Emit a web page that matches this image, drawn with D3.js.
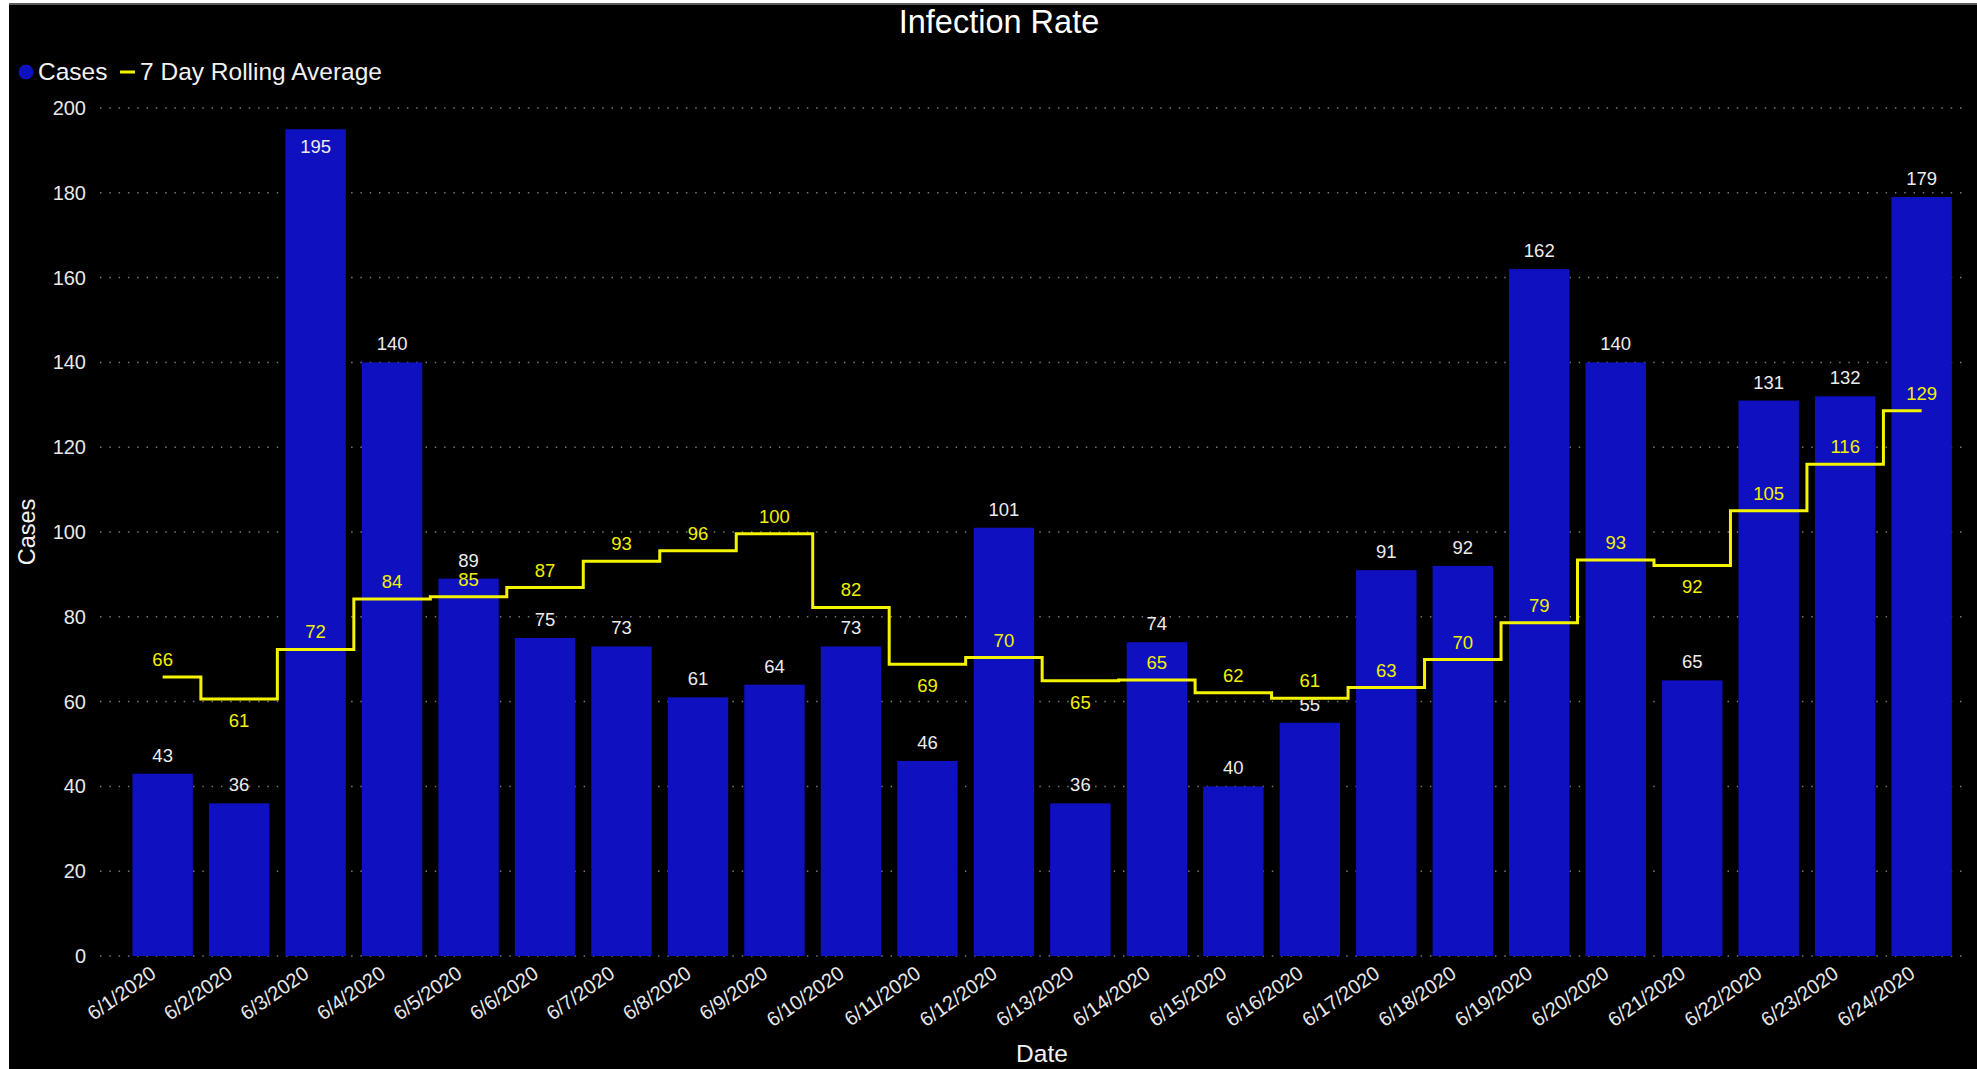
<html>
<head>
<meta charset="UTF-8">
<script src="https://d3js.org/d3.v7.min.js"></script>
<style>
body { margin: 0; background: #fff; }
svg { display: block; font-family: "Liberation Sans", Arial, sans-serif; }
</style>
</head>
<body>
<svg id="chart" width="1977" height="1069"></svg>
<script>
// datos
var dates = ["6/1/2020","6/2/2020","6/3/2020","6/4/2020","6/5/2020","6/6/2020","6/7/2020","6/8/2020",
	"6/9/2020","6/10/2020","6/11/2020","6/12/2020","6/13/2020","6/14/2020","6/15/2020","6/16/2020",
	"6/17/2020","6/18/2020","6/19/2020","6/20/2020","6/21/2020","6/22/2020","6/23/2020","6/24/2020"]
var cases = [43,36,195,140,89,75,73,61,64,73,46,101,36,74,40,55,91,92,162,140,65,131,132,179]
var rolling = [65.8,60.6,72.3,84.2,84.7,86.9,93.1,95.6,99.6,82.2,68.8,70.4,64.9,65.1,62.1,60.8,63.3,69.9,78.6,93.4,92.1,105.0,116.0,128.6]
var yTicks = [0,20,40,60,80,100,120,140,160,180,200]

var svg = d3.select("#chart")

// fondo negro del visual
svg.append("rect").attr("x", 9).attr("y", 3).attr("width", 1968).attr("height", 1066).attr("fill", "#000")
svg.append("rect").attr("x", 9).attr("y", 3).attr("width", 1968).attr("height", 2).attr("fill", "#5a5a5a")

var x = d3.scaleBand()
	.domain(dates)
	.range([124.4, 1959.9])
	.paddingInner(0.21)
	.paddingOuter(0.105)

var y = d3.scaleLinear()
	.domain([0, 200])
	.range([956, 108])

// lineas de cuadricula punteadas
svg.append("g").selectAll("line")
	.data(yTicks)
	.enter().append("line")
	.attr("x1", 100).attr("x2", 1968)
	.attr("y1", d => y(d)).attr("y2", d => y(d))
	.attr("stroke", "#777")
	.attr("stroke-width", 1.5)
	.attr("stroke-dasharray", "1.5,7.8")

// eje Y
var yAxis = svg.append("g")
	.attr("transform", "translate(86,0)")
	.call(d3.axisLeft(y).tickValues(yTicks).tickSize(0).tickPadding(0))
yAxis.select(".domain").remove()
yAxis.selectAll("text")
	.attr("fill", "#e8e8e8")
	.style("font-size", "20px")
	.style("font-family", "Liberation Sans, Arial, sans-serif")

// eje X
var xAxis = svg.append("g")
	.attr("transform", "translate(0,956)")
	.call(d3.axisBottom(x).tickSize(0))
xAxis.select(".domain").remove()
xAxis.selectAll("text")
	.attr("fill", "#e8e8e8")
	.style("font-size", "20px")
	.style("font-family", "Liberation Sans, Arial, sans-serif")
	.attr("text-anchor", "end")
	.attr("dy", 0)
	.attr("transform", "translate(-7,18) rotate(-35)")

// barras
svg.append("g").selectAll("rect")
	.data(cases)
	.enter().append("rect")
	.attr("x", (d, i) => x(dates[i]))
	.attr("y", d => y(d))
	.attr("width", x.bandwidth())
	.attr("height", d => y(0) - y(d))
	.attr("fill", "#0f10bf")

// etiquetas de barras
svg.append("g").selectAll("text")
	.data(cases)
	.enter().append("text")
	.attr("x", (d, i) => x(dates[i]) + x.bandwidth() / 2)
	.attr("y", d => y(d) - 30 < y(200) ? y(d) + 24 : y(d) - 12)
	.attr("text-anchor", "middle")
	.attr("fill", "#ececec")
	.style("font-size", "18.5px")
	.text(d => d)

// linea de promedio movil (escalonada)
var line = d3.line()
	.x((d, i) => x(dates[i]) + x.bandwidth() / 2)
	.y(d => y(d))
	.curve(d3.curveStep)

svg.append("path")
	.datum(rolling)
	.attr("d", line)
	.attr("fill", "none")
	.attr("stroke", "#f4f400")
	.attr("stroke-width", 3)

// etiquetas del promedio: abajo en minimos locales salvo choque con la etiqueta de barra
function below(i) {
	var v = rolling[i]
	var prev = i > 0 ? rolling[i - 1] : Infinity
	var next = i < rolling.length - 1 ? rolling[i + 1] : Infinity
	if (!(v <= prev && v <= next)) return false
	var barLabel = y(cases[i]) - 18
	return Math.abs((y(v) + 22) - barLabel) > 20
}

svg.append("g").selectAll("text")
	.data(rolling)
	.enter().append("text")
	.attr("x", (d, i) => x(dates[i]) + x.bandwidth() / 2)
	.attr("y", (d, i) => below(i) ? y(d) + 28 : y(d) - 11)
	.attr("text-anchor", "middle")
	.attr("fill", "#f0f000")
	.style("font-size", "18.5px")
	.text(d => Math.round(d))

// titulo
svg.append("text")
	.attr("x", 999).attr("y", 33)
	.attr("text-anchor", "middle")
	.attr("fill", "#fff")
	.style("font-size", "32.5px")
	.text("Infection Rate")

// leyenda
svg.append("circle").attr("cx", 26).attr("cy", 72).attr("r", 7.5).attr("fill", "#0f10bf")
svg.append("text").attr("x", 38).attr("y", 80).attr("fill", "#f2f2f2").style("font-size", "24.5px").text("Cases")
svg.append("line").attr("x1", 120).attr("x2", 135).attr("y1", 72).attr("y2", 72)
	.attr("stroke", "#f4f400").attr("stroke-width", 3)
svg.append("text").attr("x", 140).attr("y", 80).attr("fill", "#f2f2f2").style("font-size", "24.5px").text("7 Day Rolling Average")

// titulos de ejes
svg.append("text")
	.attr("x", 1042).attr("y", 1062)
	.attr("text-anchor", "middle")
	.attr("fill", "#f2f2f2")
	.style("font-size", "24.5px")
	.text("Date")

svg.append("text")
	.attr("transform", "translate(35,532) rotate(-90)")
	.attr("text-anchor", "middle")
	.attr("fill", "#f2f2f2")
	.style("font-size", "23.5px")
	.text("Cases")
</script>
</body>
</html>
